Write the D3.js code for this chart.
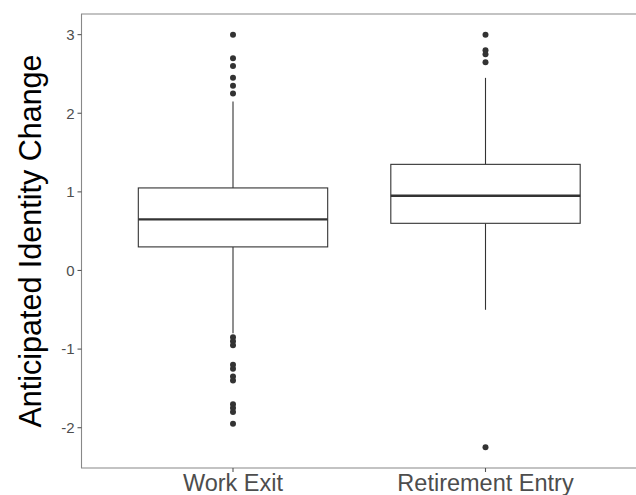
<!DOCTYPE html>
<html>
<head>
<meta charset="utf-8">
<script src="https://cdn.jsdelivr.net/npm/d3@7"></script>
<style>
  html, body { margin: 0; padding: 0; background: #fff; }
  svg { display: block; }
</style>
</head>
<body>
<svg id="chart" width="636" height="495"></svg>
<script>
const categories = ["Work Exit", "Retirement Entry"];
const lowerWhisker = [-0.8, -0.5];
const q1 = [0.30, 0.60];
const medians = [0.65, 0.95];
const q3 = [1.05, 1.35];
const upperWhisker = [2.15, 2.45];
const outliersWorkExit = [3.0, 2.7, 2.6, 2.45, 2.35, 2.25,
  -0.85, -0.9, -0.95, -1.2, -1.25, -1.35, -1.4, -1.7, -1.75, -1.8, -1.95];
const outliersRetirement = [3.0, 2.8, 2.75, 2.65, -2.25];
const outliers = [outliersWorkExit, outliersRetirement];
const yTicks = [-2, -1, 0, 1, 2, 3];
const yTitle = "Anticipated Identity Change";

const svg = d3.select("#chart");
const pLeft = 81.5, pTop = 14, pBottom = 468, pRight = 637;

const y = d3.scaleLinear().domain([-2.5125, 3.2625]).range([pBottom, pTop]);
// discrete axis with 0.6 expansion on each side
const xc = d3.scaleLinear().domain([0.4, 2.6]).range([pLeft, pRight]);
const boxW = 0.75;

const g = svg.append("g");

// boxes
categories.forEach((c, i) => {
  const cx = xc(i + 1);
  const x0 = xc(i + 1 - boxW / 2), x1 = xc(i + 1 + boxW / 2);
  const col = "#333333";
  g.append("line").attr("x1", cx).attr("x2", cx)
    .attr("y1", y(upperWhisker[i])).attr("y2", y(q3[i]))
    .attr("stroke", col).attr("stroke-width", 1.1);
  g.append("line").attr("x1", cx).attr("x2", cx)
    .attr("y1", y(q1[i])).attr("y2", y(lowerWhisker[i]))
    .attr("stroke", col).attr("stroke-width", 1.1);
  g.append("rect").attr("x", x0).attr("y", y(q3[i]))
    .attr("width", x1 - x0).attr("height", y(q1[i]) - y(q3[i]))
    .attr("fill", "#fff").attr("stroke", col).attr("stroke-width", 1.1);
  g.append("line").attr("x1", x0).attr("x2", x1)
    .attr("y1", y(medians[i])).attr("y2", y(medians[i]))
    .attr("stroke", col).attr("stroke-width", 2.4);
  g.selectAll(null).data(outliers[i]).enter().append("circle")
    .attr("cx", cx).attr("cy", d => y(d)).attr("r", 3)
    .attr("fill", col);
});

// panel border (top, left, bottom)
const borderCol = "#888888";
svg.append("path")
  .attr("d", `M${pRight},${pTop}H${pLeft}V${pBottom}H${pRight}`)
  .attr("fill", "none").attr("stroke", borderCol).attr("stroke-width", 1.1);

// y axis ticks and labels
const yAxis = svg.append("g");
yTicks.forEach(t => {
  yAxis.append("line").attr("x1", pLeft - 4).attr("x2", pLeft)
    .attr("y1", y(t)).attr("y2", y(t)).attr("stroke", "#555").attr("stroke-width", 1.1);
  yAxis.append("text").attr("x", pLeft - 7).attr("y", y(t))
    .attr("dy", "0.36em").attr("text-anchor", "end")
    .attr("font-family", "Liberation Sans, Arial, sans-serif")
    .attr("font-size", 15).attr("fill", "#4d4d4d").text(t);
});

// x axis ticks and labels
categories.forEach((c, i) => {
  const cx = xc(i + 1);
  svg.append("line").attr("x1", cx).attr("x2", cx)
    .attr("y1", pBottom).attr("y2", pBottom + 4).attr("stroke", "#555").attr("stroke-width", 1.1);
  svg.append("text").attr("x", cx).attr("y", 491)
    .attr("text-anchor", "middle")
    .attr("font-family", "Liberation Sans, Arial, sans-serif")
    .attr("font-size", 23.5).attr("fill", "#4d4d4d").text(c);
});

// y title
svg.append("text")
  .attr("transform", `translate(41,${(pTop + pBottom) / 2}) rotate(-90)`)
  .attr("text-anchor", "middle")
  .attr("font-family", "Liberation Sans, Arial, sans-serif")
  .attr("font-size", 30.5).attr("fill", "#000").text(yTitle);
</script>
</body>
</html>
